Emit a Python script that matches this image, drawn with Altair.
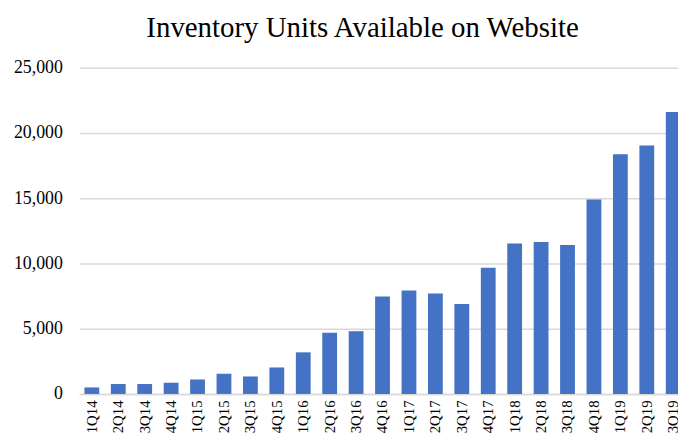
import altair as alt
import pandas as pd

quarters = ["1Q14", "2Q14", "3Q14", "4Q14",
            "1Q15", "2Q15", "3Q15", "4Q15",
            "1Q16", "2Q16", "3Q16", "4Q16",
            "1Q17", "2Q17", "3Q17", "4Q17",
            "1Q18", "2Q18", "3Q18", "4Q18",
            "1Q19", "2Q19", "3Q19"]
units = [500, 760, 760, 860,
         1110, 1550, 1340, 2030,
         3190, 4690, 4810, 7470,
         7930, 7700, 6890, 9680,
         11530, 11650, 11420, 14900,
         18370, 19050, 21610]
y_ticks = [0, 5000, 10000, 15000, 20000, 25000]
title_text = "Inventory Units Available on Website"

df = pd.DataFrame({"quarter": quarters, "units": units})

SERIF = "Liberation Serif"

chart = alt.Chart(df).mark_bar(color="#4472C4").encode(
    x=alt.X("quarter:N", sort=quarters,
            scale=alt.Scale(paddingInner=0.44, paddingOuter=0.2),
            axis=alt.Axis(title=None, labelAngle=-90, labelFont=SERIF,
                          labelFontSize=15, labelColor="black", ticks=False,
                          domainColor="#d9d9d9", domainWidth=1.5, labelPadding=6)),
    y=alt.Y("units:Q", scale=alt.Scale(domain=[0, 25000]),
            axis=alt.Axis(title=None, values=y_ticks, format=",.0f", labelFont=SERIF,
                          labelFontSize=18, labelColor="black", ticks=False,
                          domain=False, gridColor="#d9d9d9", gridWidth=1.5,
                          labelPadding=17)),
).properties(
    width=614, height=330,
    autosize=alt.AutoSizeParams(type="none"),
    padding={"left": 72, "top": 58, "right": -8, "bottom": 40},
    title=alt.TitleParams(title_text, font=SERIF, fontSize=29.2, fontWeight="normal",
                          color="black", anchor="start", frame="group", dx=68,
                          offset=16),
).configure_view(stroke=None)

chart.save("out.html", embed_options={"renderer": "svg", "actions": False})
